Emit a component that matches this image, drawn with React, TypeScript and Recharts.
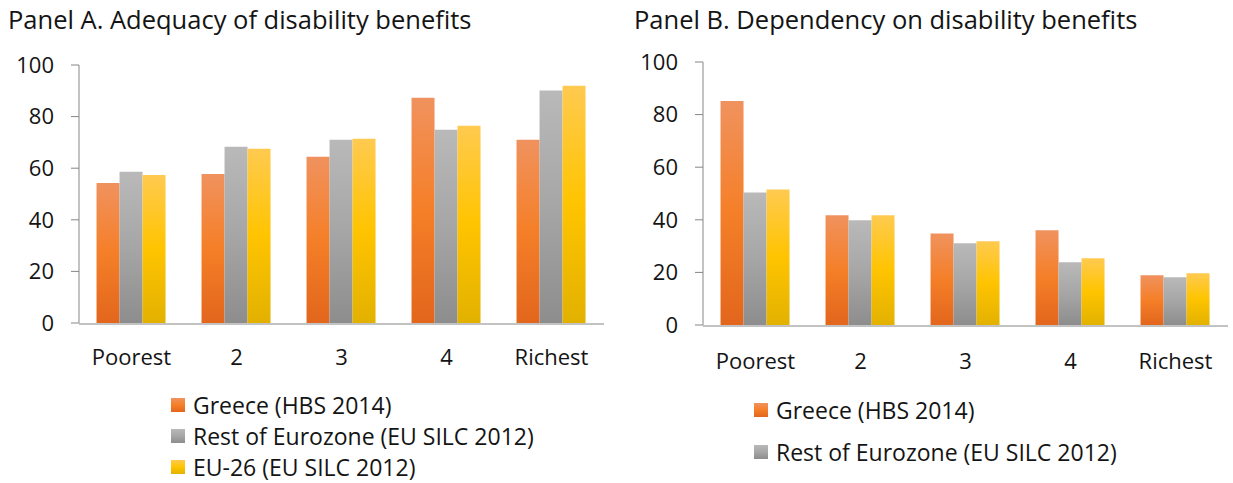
import React from 'react';
import { BarChart, Bar, XAxis, YAxis } from 'recharts';

const quintiles = ['Poorest', '2', '3', '4', 'Richest'];
const yTicks = [0, 20, 40, 60, 80, 100];

// Panel A: adequacy of disability benefits
const adequacyGreece = [54.3, 57.8, 64.4, 87.3, 71.0];
const adequacyRestEurozone = [58.6, 68.3, 71.0, 74.9, 90.1];
const adequacyEU26 = [57.4, 67.5, 71.4, 76.5, 92.0];

// Panel B: dependency on disability benefits
const dependencyGreece = [85.2, 41.7, 34.8, 36.0, 18.9];
const dependencyRestEurozone = [50.4, 39.8, 31.1, 23.9, 18.2];
const dependencyEU26 = [51.5, 41.7, 31.8, 25.4, 19.7];

const seriesNames = [
  'Greece (HBS 2014)',
  'Rest of Eurozone (EU SILC 2012)',
  'EU-26 (EU SILC 2012)',
];

const FONT = '"Open Sans", sans-serif';
const AXIS_GREY = '#868686';
const TEXT = '#141414';

// top / middle / bottom stops for each series fill
const GRADIENTS = [
  ['#F0925E', '#F57F28', '#E2661C'],
  ['#B9B9B9', '#A6A6A6', '#8D8D8D'],
  ['#FFCA50', '#FFC400', '#E2B100'],
];

const buildRows = (a: number[], b: number[], c: number[]) =>
  quintiles.map((q, i) => ({ quintile: q, s0: a[i], s1: b[i], s2: c[i] }));

const Gradients = ({ prefix }: { prefix: string }) => (
  <defs>
    {GRADIENTS.map((g, i) => (
      <linearGradient key={i} id={`${prefix}-g${i}`} x1="0" y1="0" x2="0" y2="1">
        <stop offset="0%" stopColor={g[0]} />
        <stop offset="50%" stopColor={g[1]} />
        <stop offset="100%" stopColor={g[2]} />
      </linearGradient>
    ))}
  </defs>
);

interface PanelProps {
  id: string;
  title: string;
  titleLeft: number;
  rows: Record<string, string | number>[];
  left: number;
  width: number;
  yAxisWidth: number;
  margin: { top: number; right: number; bottom: number; left: number };
  labelOffset: number;
  legendCount: number;
  legendLeft: number;
  legendTop: number;
  legendStep: number;
}

const Panel = ({
  id, title, titleLeft, rows, left, width, yAxisWidth, margin, labelOffset,
  legendCount, legendLeft, legendTop, legendStep,
}: PanelProps) => (
  <>
    <div style={{ ...styles.title, left: titleLeft }}>{title}</div>
    <div style={{ position: 'absolute', left, top: 0 }}>
      <BarChart
        width={width}
        height={390}
        data={rows}
        margin={margin}
        barCategoryGap="16.7%"
        barGap={0}
      >
        <Gradients prefix={id} />
        <XAxis
          xAxisId="cat"
          dataKey="quintile"
          height={1}
          tickLine={false}
          tickSize={0}
          tickMargin={labelOffset}
          axisLine={{ stroke: AXIS_GREY }}
          tick={{ fontSize: 22, fill: TEXT, fontFamily: FONT }}
          interval={0}
        />
        {/* tick marks between the quintile groups */}
        <XAxis
          xAxisId="bounds"
          type="number"
          domain={[0, quintiles.length]}
          ticks={[0, 1, 2, 3, 4, 5]}
          height={1}
          axisLine={false}
          tick={false}
          tickSize={8}
          tickLine={{ stroke: AXIS_GREY }}
        />
        <YAxis
          width={yAxisWidth}
          domain={[0, 100]}
          ticks={yTicks}
          tickSize={8}
          tickMargin={17}
          axisLine={{ stroke: AXIS_GREY }}
          tickLine={{ stroke: AXIS_GREY }}
          tick={{ fontSize: 22, fill: TEXT, fontFamily: FONT }}
        />
        {[0, 1, 2].map((i) => (
          <Bar
            key={i}
            xAxisId="cat"
            dataKey={`s${i}`}
            name={seriesNames[i]}
            fill={`url(#${id}-g${i})`}
            isAnimationActive={false}
          />
        ))}
      </BarChart>
    </div>
    {seriesNames.slice(0, legendCount).map((name, i) => (
      <div
        key={name}
        style={{ ...styles.legendItem, left: legendLeft, top: legendTop + i * legendStep }}
      >
        <span
          style={{
            ...styles.legendBox,
            background: `linear-gradient(${GRADIENTS[i][0]}, ${GRADIENTS[i][1]}, ${GRADIENTS[i][2]})`,
          }}
        />
        <span>{name}</span>
      </div>
    ))}
  </>
);

export default function App() {
  return (
    <div style={styles.page}>
      <Panel
        id="a"
        title="Panel A. Adequacy of disability benefits"
        titleLeft={8}
        rows={buildRows(adequacyGreece, adequacyRestEurozone, adequacyEU26)}
        left={0}
        width={620}
        yAxisWidth={79}
        margin={{ top: 65, right: 16, bottom: 65, left: 0 }}
        labelOffset={25}
        legendCount={3}
        legendLeft={171}
        legendTop={389}
        legendStep={31}
      />
      <Panel
        id="b"
        title="Panel B. Dependency on disability benefits"
        titleLeft={634}
        rows={buildRows(dependencyGreece, dependencyRestEurozone, dependencyEU26)}
        left={620}
        width={613}
        yAxisWidth={83}
        margin={{ top: 62, right: 5, bottom: 63, left: 0 }}
        labelOffset={27}
        legendCount={2}
        legendLeft={754}
        legendTop={394}
        legendStep={42}
      />
    </div>
  );
}

const styles: Record<string, React.CSSProperties> = {
  page: {
    position: 'absolute',
    left: 0,
    top: 0,
    width: 1233,
    height: 483,
    background: '#FFFFFF',
    fontFamily: FONT,
    color: TEXT,
    overflow: 'hidden',
  },
  title: {
    position: 'absolute',
    top: 2,
    fontSize: 25.5,
    lineHeight: '34px',
    whiteSpace: 'nowrap',
  },
  legendItem: {
    position: 'absolute',
    display: 'flex',
    alignItems: 'center',
    gap: 8,
    fontSize: 23,
    lineHeight: '32px',
    whiteSpace: 'nowrap',
  },
  legendBox: {
    display: 'inline-block',
    width: 14,
    height: 14,
  },
};
